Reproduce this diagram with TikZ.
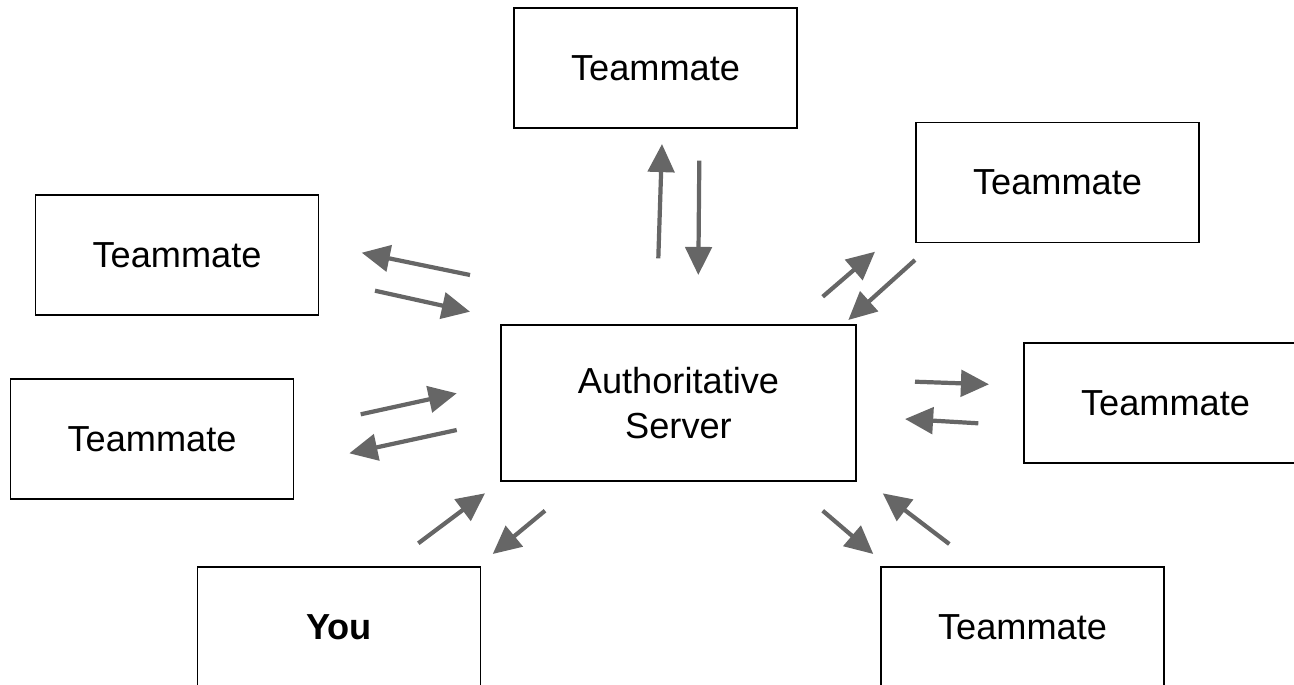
\documentclass[tikz,border=0pt]{standalone}
\usepackage{fontspec}
\setmainfont{Liberation Sans}
\usetikzlibrary{arrows.meta}
\tikzset{
  box/.style = {draw, line width=1.1pt, minimum width=5.66cm, minimum height=2.4cm,
                align=center, font=\fontsize{20.6}{26}\selectfont},
  flow/.style = {draw=black!60, line width=2.4pt, -{Triangle[length=16pt,width=15pt]}}
}
\begin{document}
\begin{tikzpicture}[x=0.02cm, y=-0.02cm]
    \useasboundingbox (0,0) rectangle (1294,684);
    \clip (0,0) rectangle (1294,684);
    % boxes
    \node[box] (server) at (678.5,403) [minimum width=7.1cm, minimum height=3.12cm] {Authoritative\\Server};
    \node[box] (top) at (655.5,68) {Teammate};
    \node[box] (upright) at (1057.5,182.5) {Teammate};
    \node[box] (upleft) at (177,255) {Teammate};
    \node[box] (lowleft) at (152,439) {Teammate};
    \node[box] (right) at (1165.5,403) {Teammate};
    \node[box] (you) at (339,627) {\textbf{You}};
    \node[box] (lowright) at (1022.5,627) {Teammate};
    % arrows
    \foreach \sx/\sy/\ex/\ey [count=\i] in {
        658.3/258.3/662/144, 699.3/160.7/698.3/275,
        822.7/296.7/875/251.7, 915/260/848.3/320,
        470/275/361.7/252.7, 375/290.7/470/311.7,
        360.7/414.3/456.7/393.3, 456.7/430/349.3/453.3,
        915/381.7/989/384.3, 978.3/423.3/905/419,
        418.3/543.3/485/493.3, 545/510.7/492.7/554,
        822.7/510.7/873.3/554, 949.3/544/882.7/493.3}{
        \coordinate (s\i) at (\sx,\sy);
        \coordinate (e\i) at (\ex,\ey);
        \draw[flow] (s\i) -- (e\i);
    }
\end{tikzpicture}
\end{document}
